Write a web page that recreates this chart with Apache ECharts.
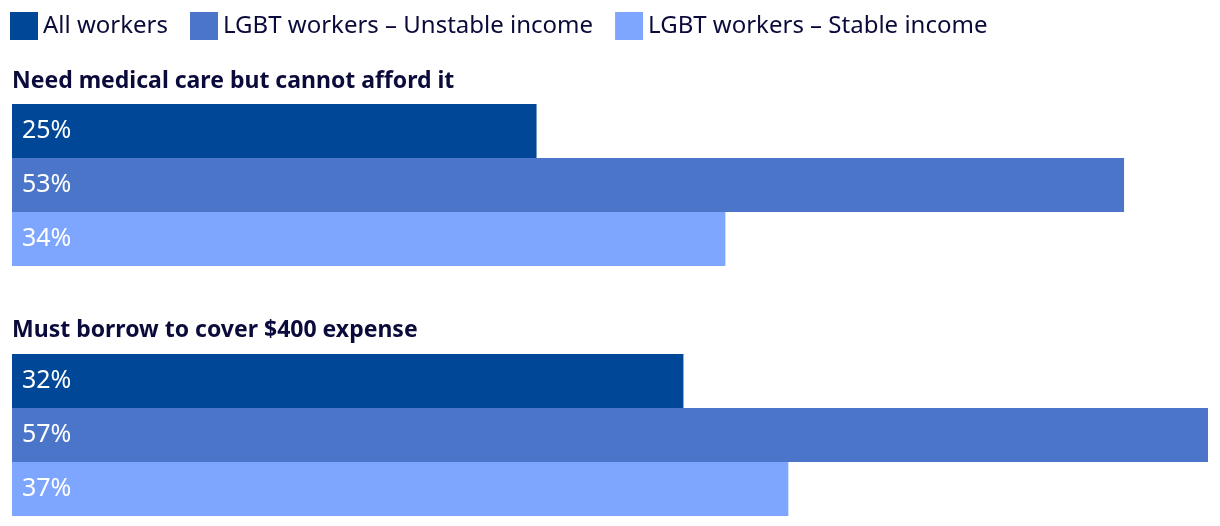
<!DOCTYPE html>
<html>
<head>
<meta charset="utf-8">
<script src="https://cdn.jsdelivr.net/npm/echarts@6/dist/echarts.min.js"></script>
<style>html,body{margin:0;padding:0;background:#fff;}#c{width:1220px;height:526px;}</style>
</head>
<body>
<div id="c"></div>
<script>
const categories = ["Need medical care but cannot afford it", "Must borrow to cover $400 expense"];
const seriesNames = ["All workers", "LGBT workers \u2013 Unstable income", "LGBT workers \u2013 Stable income"];
const allWorkers = [25, 32];
const unstableIncome = [53, 57];
const stableIncome = [34, 37];
const seriesValues = [allWorkers, unstableIncome, stableIncome];
const colors = ["#004897", "#4a75c9", "#7fa6ff"];
const FONT = "Noto Sans";
const TXT = "#0b0b3b";

const chart = echarts.init(document.getElementById('c'), null, {renderer: 'canvas'});
const grids = [
  {left: 12, right: 12, top: 104, height: 162},
  {left: 12, right: 12, top: 354, height: 162}
];
const xAxes = grids.map((g, i) => ({gridIndex: i, type: 'value', min: 0, max: 57, show: false}));
const yAxes = grids.map((g, i) => ({gridIndex: i, type: 'category', data: [categories[i]], show: false, inverse: true}));
const titles = categories.map((c, i) => ({
  text: c, left: 12, top: [70, 319][i], padding: 0,
  textStyle: {fontFamily: FONT, fontSize: 23, fontWeight: 'bold', color: TXT}
}));
const series = [];
categories.forEach((c, gi) => {
  seriesNames.forEach((n, si) => {
    series.push({
      type: 'bar', name: n, xAxisIndex: gi, yAxisIndex: gi,
      data: [seriesValues[si][gi]],
      barGap: '0%', barCategoryGap: '0%',
      itemStyle: {color: colors[si]},
      label: {show: true, position: 'insideLeft', distance: 10, color: '#fff',
        fontFamily: FONT, fontSize: 25, formatter: '{c}%'},
      emphasis: {disabled: true},
      animation: false
    });
  });
});
chart.setOption({
  animation: false,
  title: titles,
  legend: {
    data: seriesNames, left: 10, top: 12, itemWidth: 28, itemHeight: 28, itemGap: 22, padding: 0,
    icon: 'rect',
    textStyle: {fontFamily: FONT, fontSize: 24, color: TXT}
  },
  grid: grids,
  xAxis: xAxes,
  yAxis: yAxes,
  series: series
});
</script>
</body>
</html>
